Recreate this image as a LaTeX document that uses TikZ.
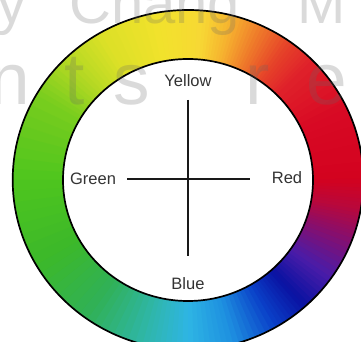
\documentclass[tikz,border=0pt]{standalone}
\usepackage{fontspec}
\setmainfont{Liberation Sans}
\newfontfamily\wmfont{Liberation Sans}
\definecolor{s0}{HTML}{D3021F}
\definecolor{s1}{HTML}{D80A24}
\definecolor{s2}{HTML}{E0222A}
\definecolor{s3}{HTML}{E64429}
\definecolor{s4}{HTML}{EF7A2A}
\definecolor{s5}{HTML}{F6B22F}
\definecolor{s6}{HTML}{F7D834}
\definecolor{s7}{HTML}{F2E22C}
\definecolor{s8}{HTML}{DCE027}
\definecolor{s9}{HTML}{B2D823}
\definecolor{s10}{HTML}{78CD1E}
\definecolor{s11}{HTML}{4EC51E}
\definecolor{s12}{HTML}{3CB82A}
\definecolor{s13}{HTML}{30B158}
\definecolor{s14}{HTML}{2FB6A8}
\definecolor{s15}{HTML}{2EB5E4}
\definecolor{s16}{HTML}{1E90E0}
\definecolor{s17}{HTML}{0A40C8}
\definecolor{s18}{HTML}{0A12A2}
\definecolor{s19}{HTML}{4A1CA8}
\definecolor{s20}{HTML}{8A0E6A}
\definecolor{s21}{HTML}{B8083C}
\definecolor{labelgray}{HTML}{333333}
\begin{document}
\begin{tikzpicture}[x=1pt,y=1pt,
  lbl/.style={inner sep=0pt, text=labelgray, font=\fontsize{16.5}{18}\selectfont},
  axis/.style={line width=2pt, draw=black!90},
  rim/.style={line width=1.7pt, draw=black},
  wm/.style={inner sep=0pt, text=black!60, text opacity=0.24}]
\useasboundingbox (0,0) rectangle (361,342);
\clip (0,0) rectangle (361,342);
\fill[white] (0,0) rectangle (361,342);
\begin{scope}[shift={(188,162)}]
  \foreach \a/\b/\ca/\cb in {0/25/s0/s1, 25/45/s1/s2, 45/55/s2/s3, 55/65/s3/s4,
      65/75/s4/s5, 75/85/s5/s6, 85/100/s6/s7, 100/120/s7/s8, 120/135/s8/s9,
      135/150/s9/s10, 150/180/s10/s11, 180/210/s11/s12, 210/235/s12/s13,
      235/255/s13/s14, 255/270/s14/s15, 270/285/s15/s16, 285/300/s16/s17,
      300/312/s17/s18, 312/325/s18/s19, 325/340/s19/s20, 340/350/s20/s21,
      350/360/s21/s0}{
    \foreach \i in {0,...,7}{
      \pgfmathsetmacro\t{\a+(\b-\a)*\i/8}
      \pgfmathsetmacro\u{\a+(\b-\a)*(\i+1)/8+0.4}
      \pgfmathtruncatemacro\p{(\i+0.5)*100/8}
      \fill[\cb!\p!\ca] (\t:175.3 and 170) -- (\u:175.3 and 170)
        -- (\u:123 and 119) -- (\t:123 and 119) -- cycle;
    }
  }
  \fill[white] (0,0) ellipse[x radius=125, y radius=121];
  \draw[rim] (0,0) ellipse[x radius=175.3, y radius=170];
  \draw[rim] (0,0) ellipse[x radius=125, y radius=121];
\end{scope}
% labels
\node[lbl] (yellow) at (188,261) {Yellow};
\node[lbl] (green) at (93,163) {Green};
\node[lbl] (red) at (287,164) {Red};
\node[lbl] (blue) at (188,58) {Blue};
\coordinate (vtop) at (188,242);
\coordinate (vbot) at (188,86);
\coordinate (hleft) at (127,163);
\coordinate (hright) at (250,163);
\draw[axis] (vtop) -- (vbot);
\draw[axis] (hleft) -- (hright);
% watermark
\begin{scope}[font=\wmfont\fontsize{58}{60}\selectfont]
  \node[wm, anchor=base] (w1) at (12,318) {y};
  \node[wm, anchor=base west] (w2) at (69,318) {Chang};
  \node[wm, anchor=base west] (w3) at (297,318) {M};
\end{scope}
\begin{scope}[font=\wmfont\fontsize{73}{75}\selectfont]
  \node[wm, anchor=base] (w4) at (10,237) {n};
  \node[wm, anchor=base] (w5) at (75,237) {t};
  \node[wm, anchor=base] (w6) at (132,237) {s};
  \node[wm, anchor=base] (w7) at (258,237) {r};
  \node[wm, anchor=base] (w8) at (327,237) {e};
\end{scope}
\end{tikzpicture}
\end{document}
